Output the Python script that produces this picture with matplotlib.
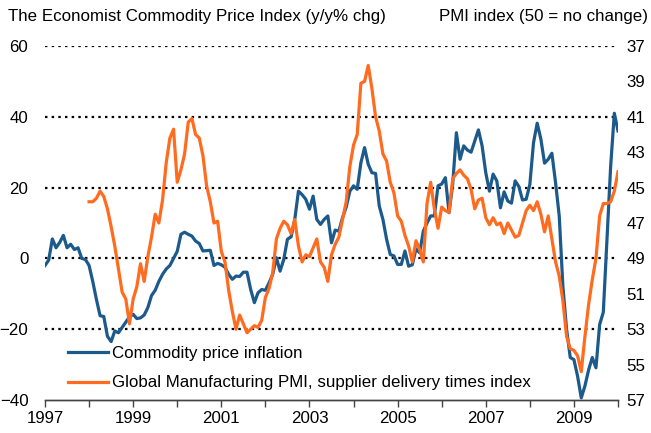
"""Commodity price inflation vs global PMI supplier delivery times."""
import matplotlib
matplotlib.use("Agg")
import matplotlib.pyplot as plt
import numpy as np
from matplotlib.lines import Line2D

plt.rcParams["font.family"] = ["Liberation Sans", "DejaVu Sans"]

# monthly, starting Jan 1997 (y/y % change)
commodity_start = 1997.0
commodity = [
    -2, -0.5, 5.5, 3, 4.5, 6.5, 3, 4, 2.5, 3, 0, -0.3,                 # 1997
    -2, -6.5, -11.6, -16.2, -16.4, -22, -23.5, -20.5, -21, -19.5, -18, -16.5,  # 1998
    -15.8, -17, -16.8, -16, -13.9, -10.5, -9, -6.5, -4.5, -3, -2, 0,   # 1999
    2, 6.8, 7.4, 6.8, 6.3, 4.9, 4.2, 2.1, 2.2, 2.3, -2, -1.4,           # 2000
    -1.8, -2.5, -4.5, -5.9, -5, -5.1, -3.9, -3.9, -8.8, -12.5, -9.7, -8.8,  # 2001
    -9, -6.9, -4.5, 0.2, -3.6, -0.3, 5.4, 6.1, 11, 19, 18, 16.7,        # 2002
    13.9, 17.6, 11, 9.6, 11, 12, 4.4, 8, 7.7, 11.5, 14.5, 19,           # 2003
    20.5, 19.5, 27, 31.3, 26.6, 24.2, 24, 14.8, 11, 5.4, 1.1, 0.7,      # 2004
    -1.7, -1.7, 2.1, -2.2, -1.8, 2.7, 1.6, 7.7, 10, 12, 12, 20.5,       # 2005
    21, 22.8, 12.9, 21, 35.5, 28, 31.8, 30.6, 30, 33.2, 36.3, 31.8,     # 2006
    24.2, 19, 23.8, 21.9, 14.3, 18.8, 16.2, 15.6, 21.9, 20.3, 16.5, 16.7,  # 2007
    20.9, 32.7, 38.2, 33.7, 26.9, 28, 29.7, 21.4, 12, -8, -20, -28,     # 2008
    -28.6, -33.3, -39.4, -36, -31.5, -28, -30.9, -18.7, -15.2, 5.4, 26, 41,  # 2009
    36,                                                                  # 2010
]

# monthly, starting Jan 1998 (index level, plotted inverted)
pmi_start = 1998.0
pmi = [
    45.8, 45.8, 45.6, 45.2, 45.5, 46.2, 47.2, 48.3, 49.6, 50.9, 51.3, 52.7,  # 1998
    51.3, 50.6, 49.3, 50.3, 48.9, 47.8, 46.5, 47.0, 45.7, 43.6, 42.2, 41.7,  # 1999
    44.7, 44.0, 43.1, 41.3, 41.1, 42.0, 42.2, 43.2, 44.9, 45.8, 47.0, 46.9,  # 2000
    48.6, 49.2, 50.8, 52.0, 53.0, 52.2, 52.7, 53.2, 53.0, 52.8, 52.9, 52.5,  # 2001
    51.2, 50.7, 49.8, 47.9, 47.3, 46.9, 47.1, 47.6, 46.8, 48.3, 49.2, 48.8,  # 2002
    48.9, 48.4, 47.9, 49.2, 49.5, 50.3, 48.8, 48.2, 47.8, 46.8, 45.8, 43.8,  # 2003
    42.6, 42.0, 39.1, 39.0, 38.1, 39.4, 41.0, 41.8, 43.1, 43.5, 44.7, 45.3,  # 2004
    46.6, 46.9, 47.7, 48.3, 49.2, 48.0, 48.5, 49.2, 45.9, 44.7, 46.2, 47.3,  # 2005
    46.1, 46.3, 46.4, 44.5, 44.2, 44.0, 44.3, 44.5, 45.1, 46.2, 45.7, 45.6,  # 2006
    46.7, 47.1, 46.7, 47.1, 47.0, 47.6, 47.0, 47.4, 47.8, 47.7, 47.0, 46.3,  # 2007
    46.0, 46.3, 45.8, 46.5, 47.5, 46.6, 47.9, 49.2, 50.0, 51.4, 53.4, 54.1,  # 2008
    54.2, 54.5, 55.4, 53.4, 51.6, 50.2, 49.0, 46.6, 45.9, 45.9, 45.8, 45.2,  # 2009
    44.1,                                                                     # 2010
]

left_ticks = [-40, -20, 0, 20, 40, 60]
right_ticks = [37, 39, 41, 43, 45, 47, 49, 51, 53, 55, 57]
year_labels = [1997, 1999, 2001, 2003, 2005, 2007, 2009]

BLUE = "#1d5a8c"
ORANGE = "#ff6b1f"
FS = 12.2

x_comm = commodity_start + np.arange(len(commodity)) / 12
x_pmi = pmi_start + np.arange(len(pmi)) / 12

fig = plt.figure(figsize=(6.51, 4.33), dpi=100)
ax = fig.add_axes([45 / 651, 1 - 400 / 433, 573 / 651, 354 / 433])
ax2 = ax.twinx()

ax.plot(x_comm, commodity, color=BLUE, lw=2.3, solid_joinstyle="round")
ax2.plot(x_pmi, pmi, color=ORANGE, lw=2.3, solid_joinstyle="round")

ax.set_xlim(1997, 2010)
ax.set_ylim(-40, 60)
ax2.set_ylim(57, 37)

for v in left_ticks[1:]:
    ax.axhline(v, color="black", lw=1.6, dashes=(1.1, 1.9), zorder=0)

ax.set_yticks(left_ticks)
ax2.set_yticks(right_ticks)
ax.set_xticks(range(1997, 2011))
ax.set_xticklabels([str(y) if y in year_labels else "" for y in range(1997, 2011)])

for a in (ax, ax2):
    for s in ("top", "left", "right"):
        a.spines[s].set_visible(False)
    a.spines["bottom"].set_color("#444444")
    a.spines["bottom"].set_linewidth(1.0)

ax.tick_params(axis="y", length=0, pad=12, labelsize=FS)
ax2.tick_params(axis="y", length=0, pad=6, labelsize=FS)
ax.tick_params(axis="x", length=5, width=1, color="#444444", pad=3, labelsize=FS)

fig.text(8 / 651, 1 - 17 / 433, "The Economist Commodity Price Index (y/y% chg)",
         fontsize=FS, ha="left", va="center")
fig.text(648 / 651, 1 - 17 / 433, "PMI index (50 = no change)",
         fontsize=FS, ha="right", va="center")

handles = [Line2D([], [], color=BLUE, lw=2.3), Line2D([], [], color=ORANGE, lw=2.3)]
ax2.legend(handles, ["Commodity price inflation",
                     "Global Manufacturing PMI, supplier delivery times index"],
           loc="lower left", bbox_to_anchor=(0.04, 0.027), frameon=False,
           fontsize=FS, handlelength=2.35, handletextpad=0.25, labelspacing=0.85,
           borderaxespad=0, borderpad=0)

fig.savefig("out.png", dpi=100)
plt.close(fig)
